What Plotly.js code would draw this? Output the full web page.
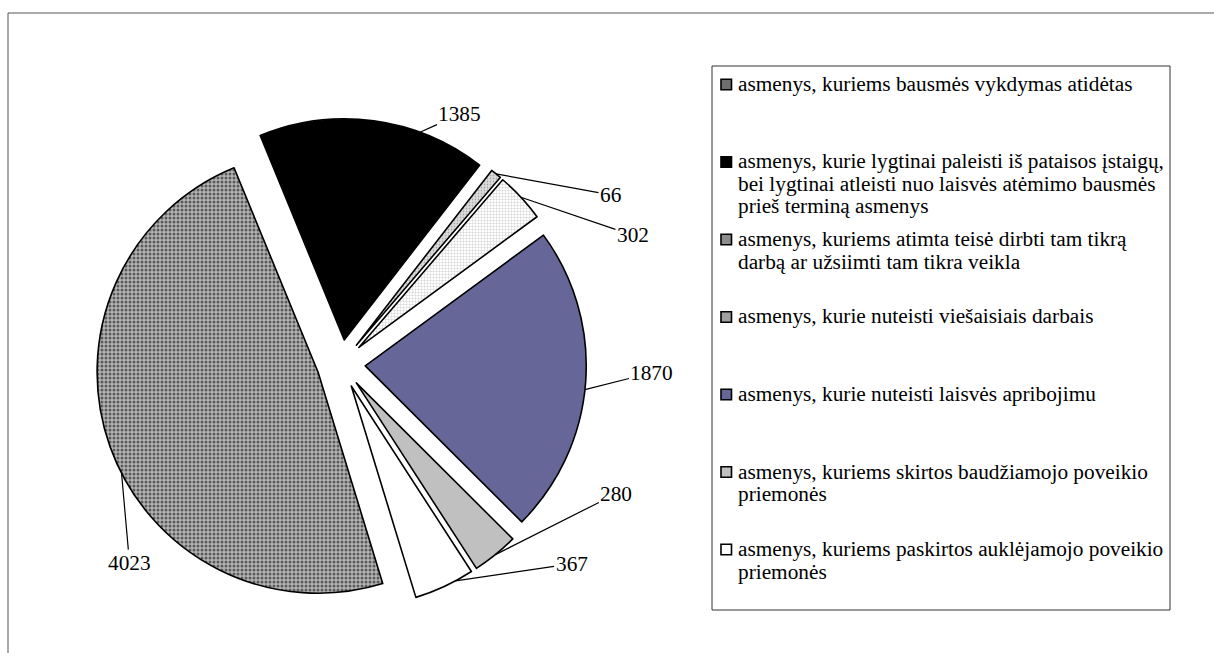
<!DOCTYPE html>
<html><head><meta charset="utf-8">
<script src="https://cdn.plot.ly/plotly-3.0.1.min.js"></script>
<style>html,body{margin:0;padding:0;background:#fff}#chart{width:1214px;height:653px}</style>
</head><body><div id="chart"></div>
<script>
// ---- data ----
const categories = [
  "asmenys, kuriems bausmės vykdymas atidėtas",
  "asmenys, kurie lygtinai paleisti iš pataisos įstaigų,<br>bei lygtinai atleisti nuo laisvės atėmimo bausmės<br>prieš terminą asmenys",
  "asmenys, kuriems atimta teisė dirbti tam tikrą<br>darbą ar užsiimti tam tikra veikla",
  "asmenys, kurie nuteisti viešaisiais darbais",
  "asmenys, kurie nuteisti laisvės apribojimu",
  "asmenys, kuriems skirtos baudžiamojo poveikio<br>priemonės",
  "asmenys, kuriems paskirtos auklėjamojo poveikio<br>priemonės"
];
const values = [4023, 1385, 66, 302, 1870, 280, 367];

// ---- styles ----
const sliceColors   = ['#b4b4b4', '#000000', '#e0e0e0', '#ffffff', '#666699', '#c0c0c0', '#ffffff'];
const patternShapes = ['.', '', '.', '+', '', '', ''];
const patternFg     = ['#000000', '#000000', '#707070', '#8a8a8a', '#000000', '#000000', '#000000'];
const patternSize   = [4, 8, 3, 3, 8, 8, 8];
const patternSol    = [0.45, 0.3, 0.3, 0.25, 0.3, 0.3, 0.3];
const swatchColors  = ['#6e6e6e', '#000000', '#8c8c8c', '#a0a0a0', '#666699', '#c0c0c0', '#ffffff'];
// label leader: fraction within slice for the anchor, and pixel offset to label
const labelFrac   = [0.457, 0.705, 0.5, 0.5, 0.523, 0.5, 0.3];
const labelOffset = [[8, 90], [40, -18], [115, 21], [112, 38], [67, -17], [121, -61], [116, -17]];

const W = 1214, H = 653;
const FONT = 'Liberation Serif';
const FS = 21.3;
const pcx = 341, pcy = 364, pr = 221, pull = 0.11, rot = 163;
const half = pr * (1 + pull);

const trace = {
  type: 'pie',
  values: values,
  labels: categories.map(c => c.replace(/<br>/g, ' ')),
  sort: false,
  direction: 'clockwise',
  rotation: rot,
  pull: pull,
  textinfo: 'none',
  hoverinfo: 'label+value',
  showlegend: false,
  domain: { x: [(pcx - half) / W, (pcx + half) / W], y: [1 - (pcy + half) / H, 1 - (pcy - half) / H] },
  marker: {
    colors: sliceColors,
    line: { color: '#000000', width: 1.6 },
    pattern: { shape: patternShapes, fgcolor: patternFg, size: patternSize, solidity: patternSol, fillmode: 'overlay' }
  }
};

const shapes = [];
const annotations = [];
// outer chart border (left/top visible)
shapes.push({ type: 'rect', xref: 'paper', yref: 'paper', x0: 8 / W, x1: 1.05, y0: -0.05, y1: 1 - 13 / H,
  line: { color: '#555555', width: 1 }, fillcolor: 'rgba(0,0,0,0)' });
// legend box
shapes.push({ type: 'rect', xref: 'paper', yref: 'paper', x0: 712 / W, x1: 1170 / W, y0: 1 - 610 / H, y1: 1 - 66 / H,
  line: { color: '#333333', width: 1 }, fillcolor: 'rgba(0,0,0,0)' });
// manual legend
const legTop = 84, legStep = 77.5, lineGap = 22.5, swX = 721, sw = 10.5, txtX = 736;
categories.forEach((c, i) => {
  const y0 = legTop + i * legStep;
  shapes.push({ type: 'rect', xref: 'paper', yref: 'paper',
    x0: swX / W, x1: (swX + sw) / W, y0: 1 - (y0 + sw / 2 + 0.5) / H, y1: 1 - (y0 - sw / 2 + 0.5) / H,
    line: { color: '#000000', width: 1.6 }, fillcolor: swatchColors[i] });
  c.split('<br>').forEach((ln, j) => {
    annotations.push({ xref: 'paper', yref: 'paper', x: txtX / W, y: 1 - (y0 + j * lineGap) / H,
      xanchor: 'left', yanchor: 'middle', showarrow: false, text: ln,
      font: { family: FONT, size: FS, color: '#000000' } });
  });
});

const layout = {
  width: W, height: H,
  margin: { l: 0, r: 0, t: 0, b: 0 },
  paper_bgcolor: '#ffffff',
  showlegend: false,
  font: { family: FONT, size: FS, color: '#000000' },
  shapes: shapes,
  annotations: annotations
};

Plotly.newPlot('chart', [trace], layout, { staticPlot: true }).then(gd => {
  const cd = gd.calcdata[0];
  const cx = cd[0].cx, cy = cd[0].cy, r = cd[0].r;
  const sz = gd._fullLayout._size;
  const total = values.reduce((a, b) => a + b, 0);
  let ang = rot * Math.PI / 180;
  const extra = [];
  values.forEach((v, i) => {
    const a0 = ang, a1 = ang + 2 * Math.PI * v / total;
    ang = a1;
    const mid = (a0 + a1) / 2;
    const ccx = cx + pull * r * Math.sin(mid), ccy = cy - pull * r * Math.cos(mid);
    const a = a0 + labelFrac[i] * (a1 - a0);
    const px = ccx + r * Math.sin(a), py = ccy - r * Math.cos(a);
    extra.push({ xref: 'paper', yref: 'paper', x: (px - sz.l) / sz.w, y: 1 - (py - sz.t) / sz.h,
      ax: labelOffset[i][0], ay: labelOffset[i][1], showarrow: true, arrowhead: 0, arrowwidth: 1.2,
      arrowcolor: '#000000', standoff: 0, text: String(v),
      font: { family: FONT, size: FS, color: '#000000' } });
  });
  return Plotly.relayout(gd, { annotations: annotations.concat(extra) });
});
</script>
</body></html>
